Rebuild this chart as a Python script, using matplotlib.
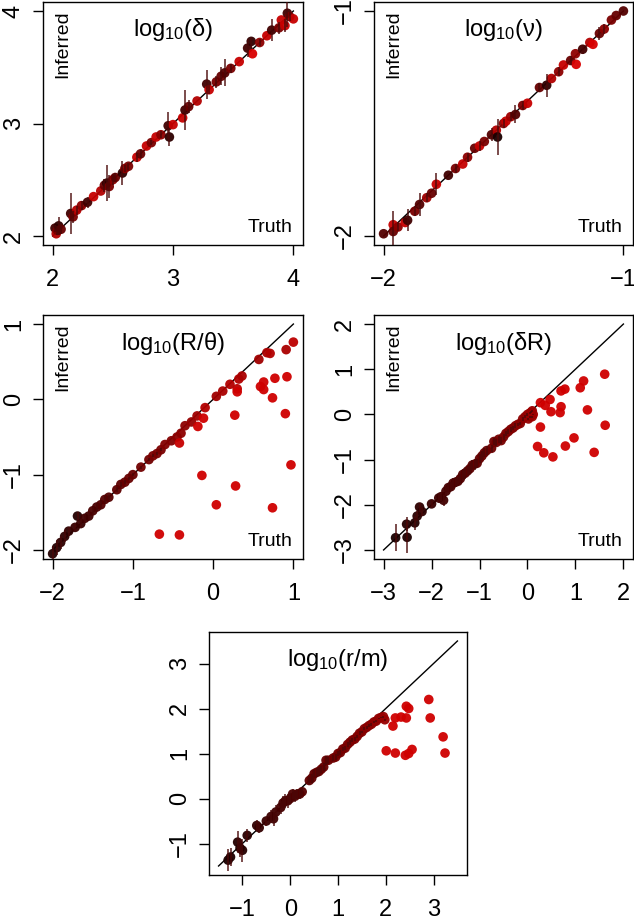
import matplotlib
matplotlib.use("Agg")
import matplotlib.pyplot as plt
from matplotlib.colors import LinearSegmentedColormap
import numpy as np

plt.rcParams['font.family'] = ['Liberation Sans', 'DejaVu Sans']
plt.rcParams['mathtext.fontset'] = 'custom'
plt.rcParams['mathtext.rm'] = 'Liberation Sans'
plt.rcParams['mathtext.it'] = 'Liberation Sans:italic'

# ---- panel 1: log10(delta)
truth1 = [2.02, 2.03, 2.04, 2.05, 2.07, 2.15, 2.17, 2.20, 2.24, 2.29, 2.34, 2.40, 2.43, 2.45, 2.47,
          2.50, 2.52, 2.58, 2.60, 2.63, 2.70, 2.73, 2.78, 2.82, 2.86, 2.90, 2.96, 2.97, 3.00, 3.08,
          3.10, 3.13, 3.20, 3.28, 3.30, 3.36, 3.40, 3.43, 3.48, 3.55, 3.62, 3.65, 3.66, 3.72, 3.78,
          3.82, 3.88, 3.90, 3.93, 3.95, 3.97, 4.00]
inferred1 = [2.07, 2.02, 2.05, 2.09, 2.06, 2.20, 2.17, 2.23, 2.27, 2.30, 2.35, 2.40, 2.45, 2.47, 2.44,
             2.50, 2.52, 2.56, 2.60, 2.62, 2.70, 2.73, 2.80, 2.83, 2.88, 2.90, 2.98, 2.88, 2.99, 3.05,
             3.12, 3.15, 3.20, 3.35, 3.30, 3.37, 3.42, 3.45, 3.49, 3.55, 3.67, 3.73, 3.62, 3.72, 3.78,
             3.83, 3.85, 3.92, 3.87, 3.98, 3.95, 3.93]
err1 = [0.03, 0, 0.04, 0.08, 0.04, 0.18, 0.05, 0.04, 0.04, 0.05, 0, 0, 0.06, 0.16, 0.1,
        0.05, 0.04, 0.11, 0.03, 0.03, 0.04, 0.04, 0, 0.02, 0, 0.03, 0.12, 0.08, 0, 0,
        0.18, 0.06, 0, 0.13, 0.04, 0.05, 0.08, 0.12, 0.04, 0, 0.08, 0.04, 0, 0.03, 0,
        0.1, 0.05, 0, 0.06, 0.12, 0.04, 0]
shade1 = [0.2, 0.8, 0.5, 0.1, 0.4, 0.2, 0.5, 0.8, 0.6, 0.2, 0.9, 0.8, 0.4, 0.1, 0.5,
          0.6, 0.4, 0.1, 0.6, 0.5, 0.9, 0.4, 0.9, 0.5, 0.9, 0.6, 0.2, 0.1, 0.9, 0.9,
          0.2, 0.4, 0.8, 0.2, 0.9, 0.5, 0.4, 0.3, 0.5, 0.9, 0.2, 0.1, 1.0, 0.6, 0.9,
          0.2, 0.5, 0.9, 0.9, 0.2, 0.5, 0.9]

# ---- panel 2: log10(nu)
truth2 = [-2.00, -1.96, -1.96, -1.94, -1.91, -1.90, -1.87, -1.85, -1.82, -1.80, -1.78, -1.73, -1.70,
          -1.67, -1.65, -1.62, -1.60, -1.58, -1.55, -1.53, -1.50, -1.49, -1.525, -1.47, -1.45, -1.42,
          -1.40, -1.35, -1.32, -1.30, -1.27, -1.25, -1.22, -1.20, -1.197, -1.17, -1.14, -1.127, -1.10,
          -1.08, -1.05, -1.03, -1.00]
inferred2 = [-1.99, -1.95, -1.98, -1.96, -1.94, -1.93, -1.89, -1.86, -1.83, -1.81, -1.77, -1.73, -1.70,
             -1.68, -1.65, -1.61, -1.60, -1.58, -1.55, -1.53, -1.50, -1.49, -1.56, -1.47, -1.46, -1.42,
             -1.41, -1.34, -1.33, -1.30, -1.27, -1.24, -1.22, -1.19, -1.237, -1.17, -1.14, -1.148, -1.10,
             -1.08, -1.04, -1.02, -1.00]
err2 = [0, 0, 0.09, 0.02, 0, 0.05, 0.02, 0.05, 0.02, 0, 0.05, 0, 0.02,
        0, 0.02, 0, 0.02, 0, 0.03, 0, 0.02, 0, 0.08, 0.02, 0.04, 0.02,
        0, 0.02, 0.05, 0, 0.02, 0, 0.02, 0, 0, 0.02, 0, 0, 0.03,
        0.02, 0, 0, 0]
shade2 = [0.3, 0.9, 0.4, 0.6, 0.9, 0.2, 0.5, 0.3, 0.7, 0.4, 0.9, 0.2, 0.5,
          0.9, 0.6, 0.4, 0.9, 0.5, 0.3, 0.8, 0.6, 0.9, 0.0, 0.7, 0.3, 0.5,
          0.9, 0.4, 0.1, 0.8, 0.6, 0.9, 0.4, 0.6, 1.0, 0.2, 0.8, 1.0, 0.4,
          0.6, 0.5, 0.4, 0.3]

# ---- panel 3: log10(R/theta)
truth3 = [-2.00, -1.95, -1.90, -1.85, -1.80, -1.72, -1.69, -1.65, -1.60, -1.55, -1.50, -1.45, -1.40,
          -1.35, -1.30, -1.20, -1.15, -1.10, -1.05, -1.00, -0.90, -0.80, -0.75, -0.70, -0.65, -0.60,
          -0.52, -0.45, -0.42, -0.40, -0.35, -0.27, -0.20, -0.10, 0.04, 0.12, 0.21, 0.30, 0.32, 0.36,
          0.57, 0.67, 0.71, 0.91, 1.00,
          0.30, 0.63, 0.59, 0.63, 0.77, 0.92, 0.74, 0.90, 0.27, -0.19, -0.12, 0.97, -0.14, 0.28, 0.04,
          0.74, -0.67, -0.42]
inferred3 = [-2.05, -1.97, -1.90, -1.82, -1.75, -1.70, -1.55, -1.65, -1.58, -1.55, -1.48, -1.43, -1.40,
             -1.33, -1.30, -1.20, -1.13, -1.10, -1.05, -1.00, -0.90, -0.80, -0.75, -0.72, -0.67, -0.60,
             -0.55, -0.50, -0.58, -0.45, -0.35, -0.30, -0.22, -0.11, 0.04, 0.11, 0.20, 0.14, 0.27, 0.31,
             0.53, 0.62, 0.61, 0.66, 0.76,
             0.10, 0.23, 0.17, 0.13, 0.28, 0.30, 0.02, -0.19, -0.21, -0.36, -0.25, -0.87, -1.01, -1.15, -1.40,
             -1.44, -1.79, -1.80]
err3 = [0.10, 0.10, 0.09, 0.08, 0.06, 0.05, 0.05, 0.06, 0.06, 0.05, 0.05, 0.05, 0.06,
        0.04, 0.03, 0.03, 0.03, 0.03, 0.02, 0.02, 0.02, 0.02, 0.02, 0.02, 0.02, 0,
        0, 0, 0, 0, 0, 0, 0, 0, 0, 0, 0, 0, 0, 0,
        0, 0, 0, 0, 0,
        0, 0, 0, 0, 0, 0, 0, 0, 0, 0, 0, 0, 0, 0, 0,
        0, 0, 0]
shade3 = [0.05, 0.05, 0.1, 0.1, 0.1, 0.15, 0.05, 0.15, 0.2, 0.2, 0.25, 0.25, 0.3,
          0.3, 0.3, 0.35, 0.35, 0.4, 0.4, 0.4, 0.45, 0.45, 0.5, 0.5, 0.5, 0.55,
          0.55, 0.6, 0.9, 0.6, 0.6, 0.65, 0.7, 0.8, 0.7, 0.75, 0.8, 0.85, 0.8, 0.75,
          0.7, 0.75, 0.8, 0.75, 0.85,
          0.95, 0.95, 0.95, 0.95, 0.95, 0.95, 0.95, 0.95, 0.95, 0.95, 0.95, 0.95, 0.95, 0.95, 0.95,
          0.95, 0.95, 0.95]

# ---- panel 4: log10(delta R)
truth4 = [-2.75, -2.52, -2.51, -2.35, -2.30, -2.25, -2.20, -2.00, -1.80, -1.75, -1.70, -1.60,
          -1.50, -1.40, -1.30, -1.20, -1.10, -1.00, -0.90, -0.85, -0.75, -0.70, -0.60, -0.50,
          -0.40, -0.30, -0.25, -0.15, -0.10, -0.05, 0.00, 0.02, 0.05, 0.08, 0.10, 0.12,
          -1.85, -1.65, -1.55, -1.45, -1.35, -1.25, -1.15, -1.05, -0.95, -0.65, -0.55, -0.45,
          -0.35, -0.20, 0.05, 0.10,
          1.61, 1.62, 1.39, 1.25, 1.17, 1.10, 0.97, 0.79, 0.78, 0.70, 0.70, 0.68, 0.49, 0.47,
          0.37, 0.27, 0.27, 0.21, 0.34, 0.53]
inferred4 = [-2.73, -2.43, -2.72, -2.40, -2.25, -2.05, -2.15, -1.98, -1.82, -1.90, -1.70, -1.60,
             -1.50, -1.42, -1.30, -1.20, -1.10, -0.98, -0.85, -0.80, -0.75, -0.60, -0.55, -0.50,
             -0.38, -0.30, -0.25, -0.20, -0.10, -0.05, 0.00, -0.10, 0.03, 0.05, -0.05, 0.00,
             -1.85, -1.62, -1.52, -1.48, -1.33, -1.25, -1.12, -1.08, -0.92, -0.62, -0.58, -0.42,
             -0.33, -0.22, -0.05, 0.08,
             0.89, -0.24, -0.84, 0.10, 0.74, 0.59, -0.52, -0.70, 0.56, 0.52, 0.17, 0.04, 0.06, 0.33,
             0.20, 0.26, -0.28, -0.71, -0.85, -0.94]
err4 = [0.30, 0.15, 0.35, 0.15, 0.12, 0.10, 0.10, 0.08, 0.10, 0.12, 0.10, 0.10,
        0.10, 0.10, 0.12, 0.12, 0.12, 0.10, 0.10, 0.10, 0.08, 0.08, 0.08, 0.06,
        0.06, 0.05, 0.05, 0.04, 0.04, 0.03, 0.03, 0.03, 0.03, 0.02, 0.02, 0.02,
        0.10, 0.10, 0.12, 0.10, 0.12, 0.10, 0.12, 0.10, 0.10, 0.08, 0.08, 0.06,
        0.05, 0.04, 0.02, 0.02,
        0, 0, 0, 0, 0, 0, 0, 0, 0, 0, 0, 0, 0, 0,
        0, 0, 0, 0, 0, 0]
shade4 = [0.0, 0.05, 0.0, 0.05, 0.08, 0.1, 0.1, 0.15, 0.2, 0.2, 0.22, 0.25,
          0.27, 0.3, 0.32, 0.34, 0.36, 0.38, 0.4, 0.42, 0.44, 0.45, 0.48, 0.5,
          0.52, 0.55, 0.56, 0.58, 0.6, 0.62, 0.64, 0.65, 0.66, 0.68, 0.7, 0.7,
          0.18, 0.24, 0.26, 0.28, 0.3, 0.33, 0.35, 0.37, 0.39, 0.46, 0.49, 0.51,
          0.53, 0.58, 0.66, 0.68,
          0.95, 0.95, 0.95, 0.95, 0.95, 0.95, 0.95, 0.95, 0.95, 0.95, 0.95, 0.95, 0.95, 0.95,
          0.95, 0.95, 0.95, 0.95, 0.95, 0.95]

# ---- panel 5: log10(r/m)
truth5 = [-1.30, -1.25, -1.10, -1.05, -1.00, -0.90, -0.70, -0.65, -0.50, -0.40, -0.30, -0.20,
          -0.10, 0.00, 0.10, 0.20, 0.25, 0.40, 0.50, 0.60, 0.70, 0.75, 0.80, 0.90,
          1.00, 1.10, 1.20, 1.30, 1.40, 1.50, 1.60, 1.70, 1.80, 1.85, 1.90, 1.95,
          -0.35, -0.15, -0.05, 0.05, 0.15, 0.45, 0.55, 0.65, 0.95, 1.05, 1.15, 1.25,
          1.35, 1.45, 1.55, 1.65, 1.75, 1.98,
          2.90, 2.93, 3.20, 3.24, 2.43, 2.48, 2.43, 2.32, 2.20, 2.15, 2.01, 2.20, 2.41, 2.48, 2.55]
inferred5 = [-1.37, -1.30, -0.97, -1.10, -1.15, -0.82, -0.60, -0.65, -0.50, -0.40, -0.30, -0.20,
             -0.05, 0.00, 0.05, 0.10, 0.15, 0.40, 0.55, 0.60, 0.70, 0.85, 0.85, 0.90,
             1.00, 1.10, 1.20, 1.30, 1.38, 1.48, 1.58, 1.65, 1.72, 1.78, 1.80, 1.82,
             -0.45, -0.10, -0.05, 0.10, 0.10, 0.45, 0.58, 0.65, 0.92, 1.02, 1.12, 1.25,
             1.32, 1.45, 1.55, 1.62, 1.70, 1.75,
             2.20, 1.79, 1.37, 1.01, 2.05, 2.00, 1.79, 1.81, 1.79, 1.61, 1.06, 1.01, 0.96, 1.00, 1.09]
err5 = [0.25, 0.20, 0.25, 0.20, 0.25, 0.15, 0.12, 0.12, 0.10, 0.15, 0.15, 0.15,
        0.15, 0.12, 0.12, 0.12, 0.10, 0.08, 0.08, 0.10, 0.08, 0.10, 0.08, 0.06,
        0.06, 0.05, 0.05, 0.04, 0.04, 0.03, 0.03, 0.03, 0.02, 0.02, 0.02, 0.02,
        0.15, 0.15, 0.15, 0.12, 0.12, 0.10, 0.10, 0.08, 0.06, 0.06, 0.05, 0.05,
        0.04, 0.04, 0.03, 0.03, 0.02, 0.02,
        0, 0, 0, 0, 0, 0, 0, 0, 0, 0, 0, 0, 0, 0, 0]
shade5 = [0.0, 0.02, 0.05, 0.05, 0.06, 0.08, 0.12, 0.13, 0.16, 0.18, 0.2, 0.22,
          0.24, 0.26, 0.28, 0.3, 0.31, 0.34, 0.36, 0.38, 0.4, 0.41, 0.42, 0.44,
          0.46, 0.48, 0.5, 0.52, 0.54, 0.56, 0.58, 0.6, 0.62, 0.63, 0.64, 0.65,
          0.19, 0.23, 0.25, 0.27, 0.29, 0.35, 0.37, 0.39, 0.45, 0.47, 0.49, 0.51,
          0.53, 0.55, 0.57, 0.59, 0.61, 0.66,
          0.95, 0.95, 0.95, 0.95, 0.95, 0.95, 0.95, 0.95, 0.95, 0.95, 0.95, 0.95, 0.95, 0.95, 0.95]

titles = ['log$_{10}$(δ)', 'log$_{10}$(ν)', 'log$_{10}$(R/θ)', 'log$_{10}$(δR)', 'log$_{10}$(r/m)']
ranges = [(2, 4), (-2, -1), (-2, 1), (-3, 2), (-1.5, 3.5)]
ticks = [[2, 3, 4], [-2, -1], [-2, -1, 0, 1], [-3, -2, -1, 0, 1, 2], [-1, 0, 1, 2, 3]]
show_labels = [True, True, True, True, False]

panels = [(truth1, inferred1, err1, shade1), (truth2, inferred2, err2, shade2),
          (truth3, inferred3, err3, shade3), (truth4, inferred4, err4, shade4),
          (truth5, inferred5, err5, shade5)]

# axes boxes in pixels: left, top, right, bottom
W, H = 634, 919
boxes = [(43, 2, 303, 245), (374, 2, 633, 245),
         (43, 315, 303, 559), (374, 315, 633, 559),
         (209, 632, 467, 875)]

cmap = LinearSegmentedColormap.from_list('dr', ['#1a0000', '#7a0000', '#d80000'])

fig = plt.figure(figsize=(W / 100, H / 100), dpi=100)
for i, (tr, inf, er, sh) in enumerate(panels):
    l, t, r, b = boxes[i]
    ax = fig.add_axes([l / W, (H - b) / H, (r - l) / W, (b - t) / H])
    lo, hi = ranges[i]
    pad = 0.04 * (hi - lo)
    tr = np.array(tr); inf = np.array(inf); er = np.array(er)
    ax.plot([lo, hi], [lo, hi], color='black', lw=1.0, zorder=1)
    ax.scatter(tr, inf, s=48, c=cmap(np.array(sh)), edgecolors='none', alpha=0.95, zorder=2)
    m = er > 0
    ax.vlines(tr[m], inf[m] - er[m], inf[m] + er[m], color='#4a0808', lw=1.2, alpha=0.85, zorder=3)
    ax.set_xlim(lo - pad, hi + pad)
    ax.set_ylim(lo - pad, hi + pad)
    ax.set_xticks(ticks[i])
    ax.set_yticks(ticks[i])
    ax.tick_params(direction='out', length=7, width=1, labelsize=17)
    ax.tick_params(axis='x', pad=10)
    ax.tick_params(axis='y', pad=6)
    for lab in ax.get_yticklabels():
        lab.set_rotation(90)
        lab.set_va('center')
    for s in ax.spines.values():
        s.set_linewidth(1.0)
    ax.text(0.5, 0.885, titles[i], transform=ax.transAxes, ha='center', va='center', fontsize=17)
    if show_labels[i]:
        ax.text(0.045, 0.965, 'Inferred', transform=ax.transAxes, rotation=90,
                ha='left', va='top', fontsize=14)
        ax.text(0.96, 0.035, 'Truth', transform=ax.transAxes, ha='right', va='bottom', fontsize=14)

plt.savefig('out.png', dpi=100)
